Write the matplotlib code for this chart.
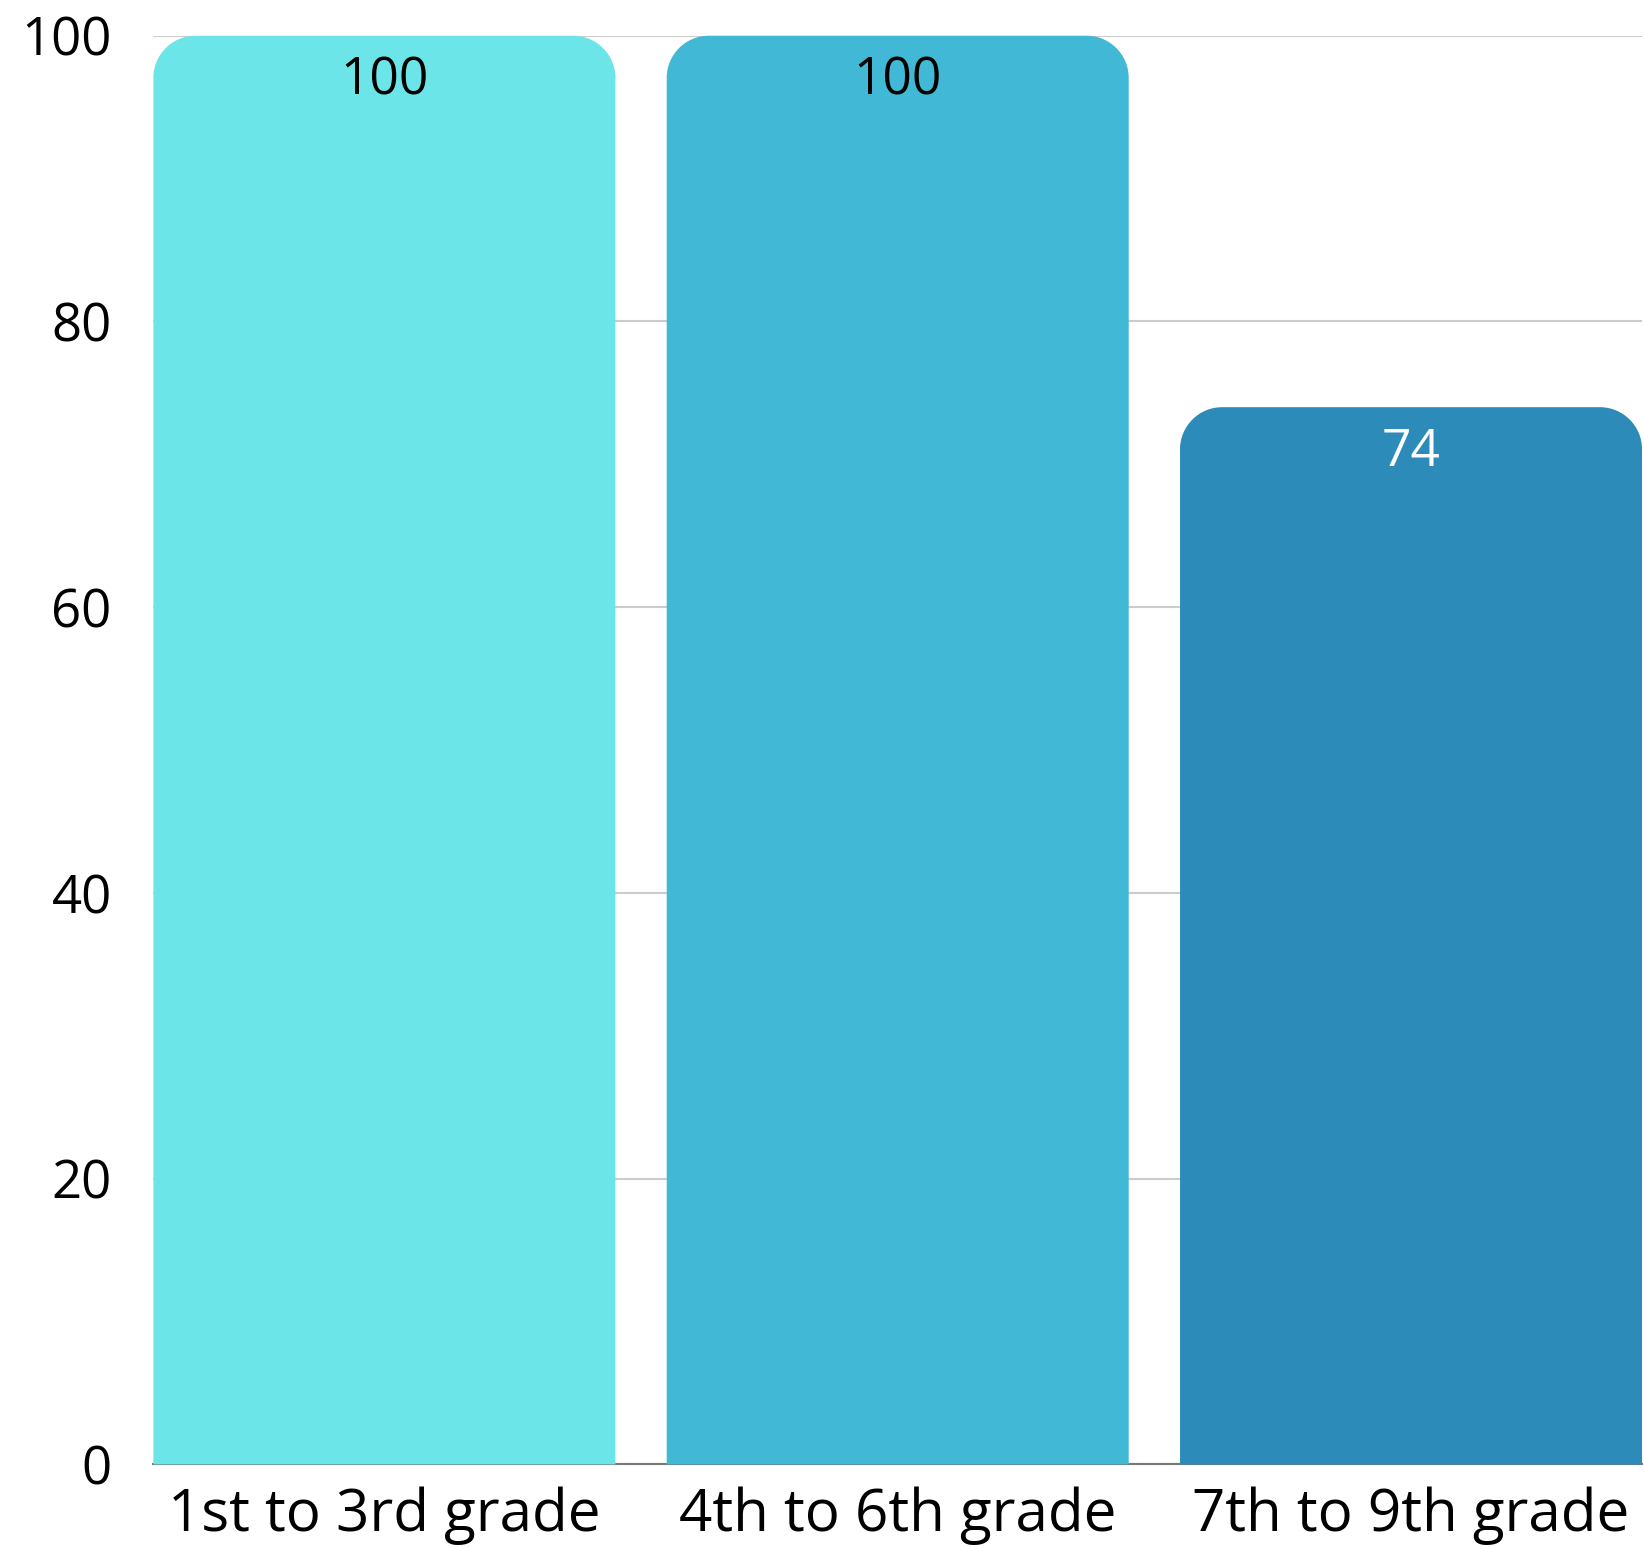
import matplotlib
matplotlib.use("Agg")
import matplotlib.pyplot as plt
from matplotlib.path import Path
from matplotlib.patches import PathPatch

# === Data ===
categories = ["1st to 3rd grade", "4th to 6th grade", "7th to 9th grade"]
values = [100, 100, 74]
colors = ["#6CE5E8", "#41B8D5", "#2D8BBA"]
label_colors = ["black", "black", "white"]
yticks = [0, 20, 40, 60, 80, 100]

plt.rcParams['font.family'] = ['Open Sans', 'DejaVu Sans']

fig = plt.figure(figsize=(16.44, 15.47), dpi=100)
ax = fig.add_axes([0.0933, 0.0534, 0.9055, 0.9235])

x = list(range(len(categories)))
bars = ax.bar(x, values, width=0.9, color=colors, zorder=2)

ax.set_xlim(-0.45, len(categories) - 0.55)
ax.set_ylim(0, 100)


def rounded_top(x0, w, h, rx, ry):
    x1 = x0 + w
    k = 0.55
    verts = [
        (x0, 0), (x0, h - ry),
        (x0, h - ry + k * ry), (x0 + rx - k * rx, h), (x0 + rx, h),
        (x1 - rx, h),
        (x1 - rx + k * rx, h), (x1, h - ry + k * ry), (x1, h - ry),
        (x1, 0), (x0, 0),
    ]
    codes = [Path.MOVETO, Path.LINETO,
             Path.CURVE4, Path.CURVE4, Path.CURVE4,
             Path.LINETO,
             Path.CURVE4, Path.CURVE4, Path.CURVE4,
             Path.LINETO, Path.CLOSEPOLY]
    return Path(verts, codes)


# corner radius ~42 px, converted to data units on each axis
fig.canvas.draw()
bbox = ax.get_window_extent()
px_x = bbox.width / (ax.get_xlim()[1] - ax.get_xlim()[0])
px_y = bbox.height / (ax.get_ylim()[1] - ax.get_ylim()[0])
radius = 42
for b in bars:
    b.set_visible(False)
    p = rounded_top(b.get_x(), b.get_width(), b.get_height(), radius / px_x, radius / px_y)
    ax.add_patch(PathPatch(p, facecolor=b.get_facecolor(), edgecolor="none", zorder=2, clip_on=False))

for i, v in enumerate(values):
    ax.annotate(f"{v}", (x[i], v), xytext=(0, -14), textcoords="offset points",
                ha="center", va="top", fontsize=37, color=label_colors[i], zorder=3)

ax.set_yticks(yticks)
ax.set_xticks(x)
ax.set_xticklabels(categories, fontsize=42)
ax.tick_params(axis="both", length=0)
ax.tick_params(axis="y", pad=30, labelsize=38)
ax.tick_params(axis="x", pad=16)
ax.grid(axis="y", color="#cccccc", linewidth=1.5, zorder=0)
ax.set_axisbelow(True)
for s in ["top", "right", "left"]:
    ax.spines[s].set_visible(False)
ax.spines["bottom"].set_color("#777777")
ax.spines["bottom"].set_linewidth(1.5)
ax.spines["bottom"].set_zorder(1)

fig.savefig("out.png", dpi=100)
